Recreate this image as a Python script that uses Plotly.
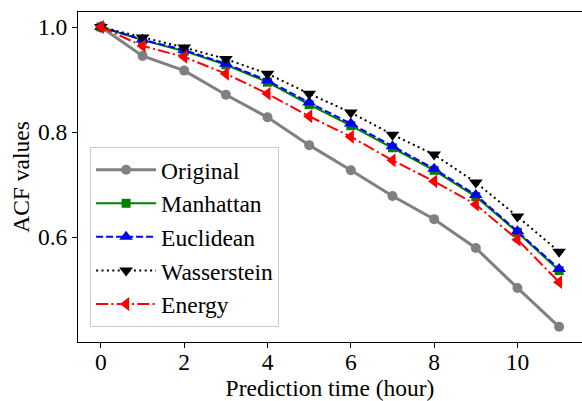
import plotly.graph_objects as go

# prediction horizon (hours)
hours = list(range(12))

acf_original = [1.0, 0.945, 0.917, 0.871, 0.828, 0.775, 0.727, 0.678, 0.634, 0.579, 0.503, 0.429]
acf_manhattan = [1.0, 0.975, 0.954, 0.928, 0.895, 0.852, 0.812, 0.770, 0.727, 0.677, 0.609, 0.536]
acf_euclidean = [1.0, 0.976, 0.956, 0.930, 0.898, 0.856, 0.816, 0.773, 0.730, 0.680, 0.611, 0.539]
acf_wasserstein = [1.0, 0.980, 0.961, 0.939, 0.911, 0.873, 0.837, 0.795, 0.757, 0.704, 0.639, 0.572]
acf_energy = [1.0, 0.964, 0.943, 0.911, 0.873, 0.830, 0.791, 0.746, 0.706, 0.662, 0.595, 0.514]

FONT = 'Liberation Serif'
FS = 23.5

series = [
    # name, values, colour, line width, dash, marker symbol, marker size
    ('Original', acf_original, '#808080', 3, 'solid', 'circle', 10),
    ('Manhattan', acf_manhattan, '#008000', 2, 'solid', 'square', 9),
    ('Euclidean', acf_euclidean, '#0000ff', 2, '7px,3px', 'triangle-up', 12),
    ('Wasserstein', acf_wasserstein, '#000000', 2, '2px,3.4px', 'triangle-down', 12),
    ('Energy', acf_energy, '#ff0000', 2, '12px,3.3px,2px,3.3px', 'triangle-left', 12),
]

fig = go.Figure()
for i, (name, vals, col, lw, dash, sym, ms) in enumerate(series):
    fig.add_trace(go.Scatter(
        x=hours, y=vals, name=name, mode='lines+markers',
        legendgroup=f'g{i}',
        line=dict(color=col, width=lw, dash=dash),
        marker=dict(symbol=sym, size=ms, color=col, line=dict(width=0)),
    ))

fig.update_layout(
    width=582, height=401,
    margin=dict(l=78, r=0, t=12, b=59),
    plot_bgcolor='white', paper_bgcolor='white',
    font=dict(family=FONT, size=FS, color='black'),
    showlegend=True,
    legend=dict(
        x=0.024, y=0.591, xanchor='left', yanchor='top',
        bgcolor='rgba(255,255,255,0.8)', bordercolor='#cccccc', borderwidth=1,
        font=dict(family=FONT, size=FS, color='black'), tracegroupgap=0,
        traceorder='grouped', itemwidth=60,
    ),
    xaxis=dict(
        range=[-0.55, 11.55], tickvals=[0, 2, 4, 6, 8, 10],
        showgrid=False, zeroline=False, automargin=False,
        showline=True, linecolor='black', linewidth=1, mirror=True,
        ticks='outside', ticklen=5, tickwidth=1, tickcolor='black',
        ticklabelstandoff=-6,
        tickfont=dict(family=FONT, size=FS, color='black'),
        title=dict(text='Prediction time (hour)', standoff=4,
                   font=dict(family=FONT, size=FS, color='black')),
    ),
    yaxis=dict(
        range=[0.4, 1.0286], tickvals=[0.6, 0.8, 1.0], tickformat='.1f',
        showgrid=False, zeroline=False, automargin=False,
        showline=True, linecolor='black', linewidth=1, mirror=False,
        ticks='outside', ticklen=5, tickwidth=1, tickcolor='black',
        tickfont=dict(family=FONT, size=FS, color='black'),
        title=dict(text='ACF values', standoff=1,
                   font=dict(family=FONT, size=FS, color='black')),
    ),
)

# the page body carries a default 8px margin; drop it so the figure fills the window
fig.write_html("out.html", config={'displayModeBar': False},
               post_script="document.body.style.margin='0';")
